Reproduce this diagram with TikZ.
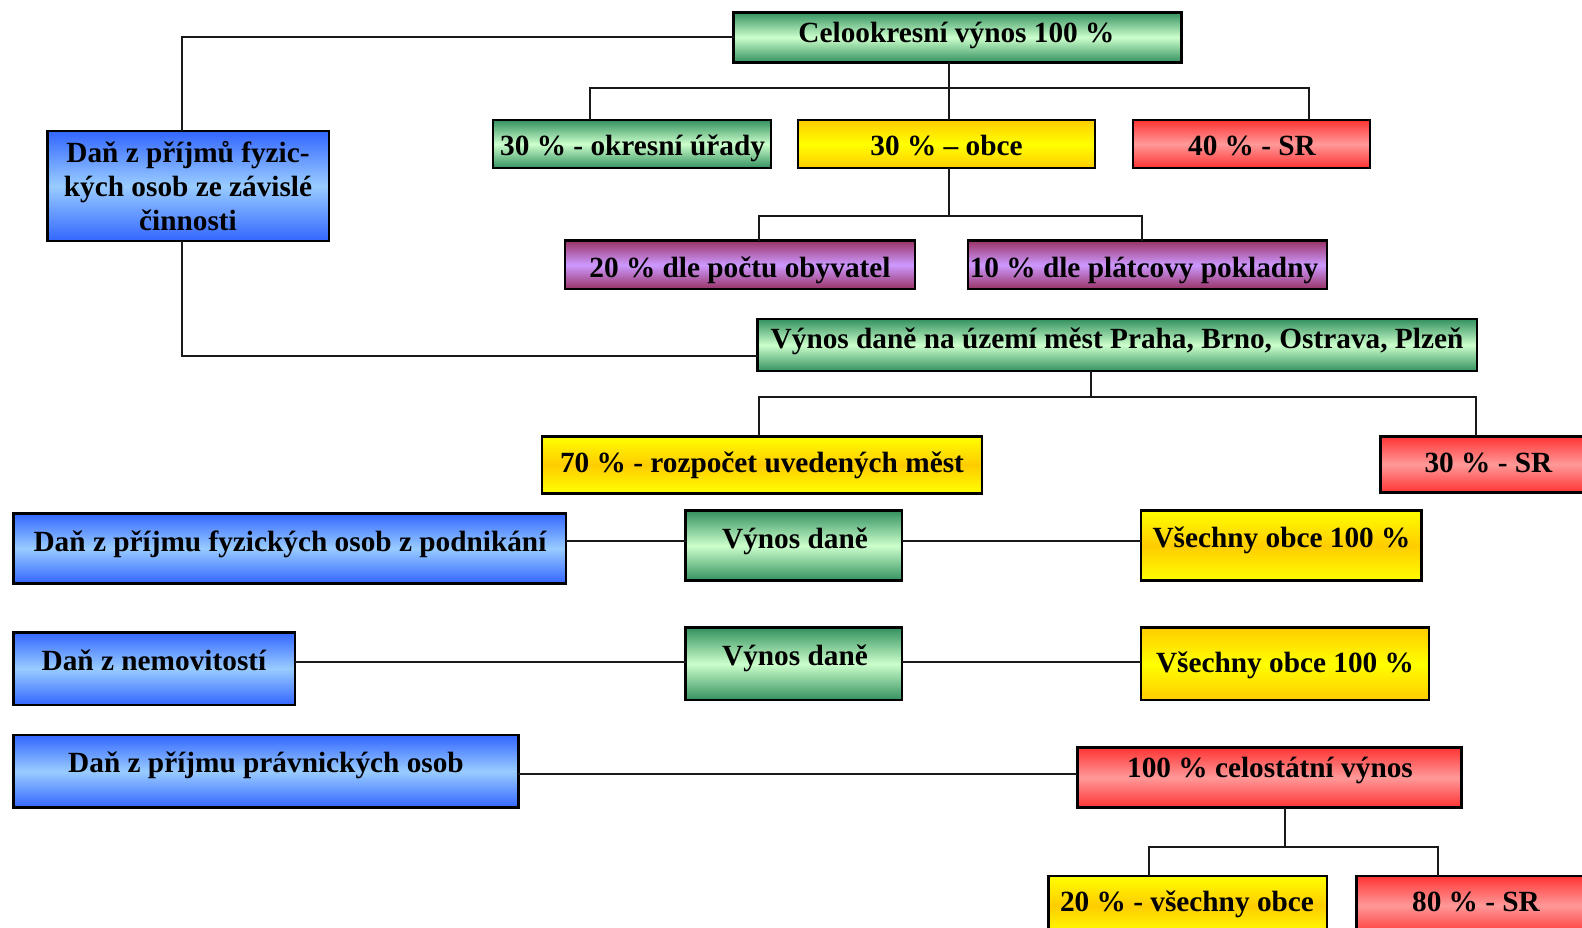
\documentclass[tikz,border=0pt]{standalone}
\usepackage{fontspec}
\setmainfont{Liberation Serif}
\definecolor{gOut}{RGB}{51,145,95}
\definecolor{gIn}{RGB}{204,255,204}
\definecolor{yOut}{RGB}{255,204,0}
\definecolor{yIn}{RGB}{255,255,0}
\definecolor{rOut}{RGB}{255,51,51}
\definecolor{rIn}{RGB}{255,153,153}
\definecolor{bOut}{RGB}{51,102,255}
\definecolor{bIn}{RGB}{153,204,255}
\definecolor{pOut}{RGB}{153,51,102}
\definecolor{pIn}{RGB}{204,153,255}
\tikzset{
  box/.style={draw=black, line width=2.5pt, inner sep=0pt, outer sep=0pt},
  grnbox/.style={box, top color=gOut, bottom color=gOut, middle color=gIn},
  goldbox/.style={box, top color=yOut, bottom color=yOut, middle color=yIn},
  yelbox/.style={box, top color=yIn, bottom color=yIn, middle color=yOut},
  redbox/.style={box, top color=rOut, bottom color=rOut, middle color=rIn},
  bluebox/.style={box, top color=bOut, bottom color=bOut, middle color=bIn},
  purbox/.style={box, top color=pOut, bottom color=pOut, middle color=pIn},
  wire/.style={draw=black!90, line width=2pt},
  lbl/.style={font=\bfseries\fontsize{29.3}{34}\selectfont, inner sep=0pt, anchor=base, yshift=-1pt},
}
% \rbox{name}{style}{x1}{y1}{x2}{y2}
\newcommand\rbox[6]{\node[#2, minimum width={#5-#3}, minimum height={#6-#4}] (#1) at ({(#3+#5)/2},{(#4+#6)/2}) {};}
\begin{document}
\begin{tikzpicture}[x=1pt,y=-1pt]
\useasboundingbox (0,0) rectangle (1582,928);
\clip (0,0) rectangle (1582,928);

% boxes
\rbox{b1}{grnbox}{733.7}{12.3}{1181.5}{62.3}
\rbox{okres}{grnbox}{493}{120}{771}{168}
\rbox{obce}{goldbox}{798}{120}{1095}{168}
\rbox{sr40}{redbox}{1133}{120}{1370}{168}
\rbox{blue1}{bluebox}{47.4}{131}{329}{241}
\rbox{p1}{purbox}{565}{240.7}{915}{289}
\rbox{p2}{purbox}{967.8}{240.7}{1327}{289}
\rbox{g2}{grnbox}{757.6}{319}{1477}{371}
\rbox{y70}{yelbox}{541.8}{436.3}{982}{493.3}
\rbox{sr30}{redbox}{1380.5}{436.3}{1596}{492.7}
\rbox{blue2}{bluebox}{13.3}{513.3}{565.8}{583.3}
\rbox{gv1}{grnbox}{685.7}{510.7}{902}{580.7}
\rbox{ve1}{yelbox}{1141}{510.7}{1421.3}{580.7}
\rbox{blue3}{bluebox}{13.3}{632.3}{295}{705}
\rbox{gv2}{grnbox}{685.7}{627.7}{902}{700}
\rbox{ve2}{goldbox}{1141}{627.7}{1429}{700}
\rbox{blue4}{bluebox}{13.3}{735}{518.4}{807.7}
\rbox{r100}{redbox}{1077.4}{747.3}{1461.6}{807.7}
\rbox{y20}{yelbox}{1048.4}{876}{1327}{935}
\rbox{r80}{redbox}{1356.5}{876}{1596}{935}

% labels
\node[lbl] (tb1) at (956.5,41.7) {Celookresní výnos 100 \%};
\node[lbl] (tokres) at (632.6,154.3) {30 \% - okresní úřady};
\node[lbl] (tobce) at (946.5,154.3) {30 \% – obce};
\node[lbl] (tsr40) at (1252,154.3) {40 \% - SR};
\node[lbl] (tblue1a) at (188,162) {Daň z příjmů fyzic-};
\node[lbl] (tblue1b) at (188,196) {kých osob ze závislé};
\node[lbl] (tblue1c) at (188,230) {činnosti};
\node[lbl] (tp1) at (740,276) {20 \% dle počtu obyvatel};
\node[lbl] (tp2) at (1144,276) {10 \% dle plátcovy pokladny};
\node[lbl] (tg2) at (1117,347.7) {Výnos daně na území měst Praha, Brno, Ostrava, Plzeň};
\node[lbl] (ty70) at (762,471) {70 \% - rozpočet uvedených měst};
\node[lbl] (tsr30) at (1488.4,471) {30 \% - SR};
\node[lbl] (tblue2) at (290,550) {Daň z příjmu fyzických osob z podnikání};
\node[lbl] (tgv1) at (795,547.7) {Výnos daně};
\node[lbl] (tve1) at (1281.5,546.7) {Všechny obce 100 \%};
\node[lbl] (tblue3) at (154,669) {Daň z nemovitostí};
\node[lbl] (tgv2) at (795,664.5) {Výnos daně};
\node[lbl] (tve2) at (1285,671.7) {Všechny obce 100 \%};
\node[lbl] (tblue4) at (266,771.7) {Daň z příjmu právnických osob};
\node[lbl] (tr100) at (1270,776.7) {100 \% celostátní výnos};
\node[lbl] (ty20) at (1187,910) {20 \% - všechny obce};
\node[lbl] (tr80) at (1476,910) {80 \% - SR};

% wire junctions
\coordinate (k0) at (182,36.7);
\coordinate (k3) at (182,356);
\coordinate (j1) at (949.4,88.3);
\coordinate (j1l) at (590,88.3);
\coordinate (j1r) at (1308.6,88.3);
\coordinate (j2) at (949.4,216);
\coordinate (j2l) at (758.7,216);
\coordinate (j2r) at (1141.7,216);
\coordinate (j3) at (1091,397.3);
\coordinate (j3l) at (758.7,397.3);
\coordinate (j3r) at (1476.4,397.3);
\coordinate (j4) at (1285,847.3);
\coordinate (j4l) at (1148.9,847.3);
\coordinate (j4r) at (1437.7,847.3);
\coordinate (w1) at (0,540.7);
\coordinate (w2) at (0,661.7);
\coordinate (w3) at (0,774);

% connectors
\draw[wire] (b1.west) -| (blue1.north -| k0);
\draw[wire] (blue1.south -| k3) -- (k3) -- (g2.west |- k3);
\draw[wire] (b1.south -| j1) -- (obce.north -| j1);
\draw[wire] (okres.north -| j1l) -- (j1l) -- (j1r) -- (sr40.north -| j1r);
\draw[wire] (obce.south -| j2) -- (j2);
\draw[wire] (p1.north -| j2l) -- (j2l) -- (j2r) -- (p2.north -| j2r);
\draw[wire] (g2.south -| j3) -- (j3);
\draw[wire] (y70.north -| j3l) -- (j3l) -- (j3r) -- (sr30.north -| j3r);
\draw[wire] (blue2.east |- w1) -- (gv1.west |- w1);
\draw[wire] (gv1.east |- w1) -- (ve1.west |- w1);
\draw[wire] (blue3.east |- w2) -- (gv2.west |- w2);
\draw[wire] (gv2.east |- w2) -- (ve2.west |- w2);
\draw[wire] (blue4.east |- w3) -- (r100.west |- w3);
\draw[wire] (r100.south -| j4) -- (j4);
\draw[wire] (y20.north -| j4l) -- (j4l) -- (j4r) -- (r80.north -| j4r);
\end{tikzpicture}
\end{document}
